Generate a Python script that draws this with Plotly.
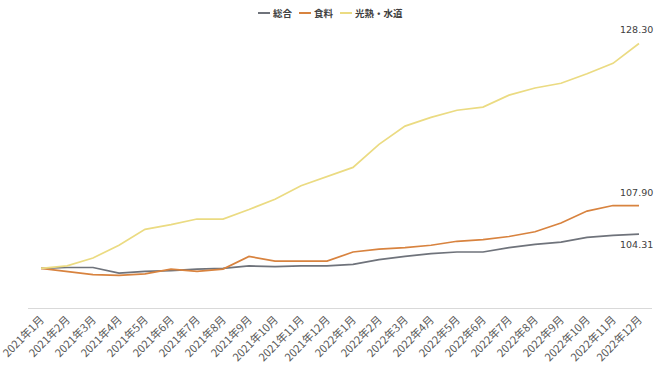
import plotly.graph_objects as go

months = ["2021年1月", "2021年2月", "2021年3月", "2021年4月", "2021年5月", "2021年6月",
          "2021年7月", "2021年8月", "2021年9月", "2021年10月", "2021年11月", "2021年12月",
          "2022年1月", "2022年2月", "2022年3月", "2022年4月", "2022年5月", "2022年6月",
          "2022年7月", "2022年8月", "2022年9月", "2022年10月", "2022年11月", "2022年12月"]

sogo = [100.0, 100.1, 100.1, 99.4, 99.6, 99.7, 99.9, 100.0, 100.3, 100.2, 100.3, 100.3,
        100.5, 101.1, 101.5, 101.85, 102.05, 102.05, 102.6, 103.0, 103.3, 103.9, 104.15, 104.31]
shokuryo = [100.0, 99.6, 99.2, 99.1, 99.3, 99.9, 99.6, 99.9, 101.5, 100.9, 100.9, 100.9,
            102.05, 102.4, 102.6, 102.9, 103.4, 103.6, 104.0, 104.6, 105.7, 107.2, 107.9, 107.9]
kounetsu = [100.0, 100.3, 101.3, 102.9, 104.9, 105.5, 106.2, 106.2, 107.4, 108.7, 110.4, 111.5,
            112.7, 115.6, 117.9, 119.0, 119.9, 120.3, 121.8, 122.7, 123.3, 124.5, 125.8, 128.3]

series_names = ["総合", "食料", "光熱・水道"]
series_values = [sogo, shokuryo, kounetsu]
colors = ["#6f737b", "#d8833f", "#ebdb82"]
label_shift = [-10, 13, 14]

fig = go.Figure()
for name, vals, col in zip(series_names, series_values, colors):
    fig.add_trace(go.Scatter(x=months, y=vals, mode="lines", name=name,
                             line=dict(color=col, width=1.7), showlegend=False))

# end-of-line value labels
for vals, shift in zip(series_values, label_shift):
    fig.add_annotation(x=months[-1], y=vals[-1], xref="x", yref="y",
                       text=f"{vals[-1]:.2f}", showarrow=False, yshift=shift, xshift=-3,
                       font=dict(family="DejaVu Sans", size=9.5, color="#404040"))

# custom compact legend (top centre)
legend_x = [258, 299, 340]
for name, col, lx in zip(series_names, colors, legend_x):
    fig.add_shape(type="line", xref="paper", yref="paper",
                  x0=(lx - 28) / 624, x1=(lx - 16) / 624,
                  y0=1 + (29.5 - 12.5) / 278.25, y1=1 + (29.5 - 12.5) / 278.25,
                  line=dict(color=col, width=2))
    fig.add_annotation(xref="paper", yref="paper", x=(lx - 15) / 624,
                       y=1 + (29.5 - 12.5) / 278.25, text=f"<b>{name}</b>",
                       showarrow=False, xanchor="left", yanchor="middle",
                       font=dict(family="Noto Sans CJK JP", size=9.5, color="#404040"))

fig.update_layout(
    width=660, height=371,
    margin=dict(l=28, r=8, t=29.5, b=63.25),
    plot_bgcolor="white", paper_bgcolor="white",
    xaxis=dict(type="category", range=[-0.5, 23.5], showgrid=False, zeroline=False,
               showline=True, linecolor="#d9d9d9", linewidth=1, ticks="",
               tickangle=-45, automargin=False,
               tickfont=dict(family="Noto Sans CJK JP", size=11, color="#595959")),
    yaxis=dict(range=[95, 130], visible=False, showgrid=False, zeroline=False),
)

fig.write_html("out.html")
